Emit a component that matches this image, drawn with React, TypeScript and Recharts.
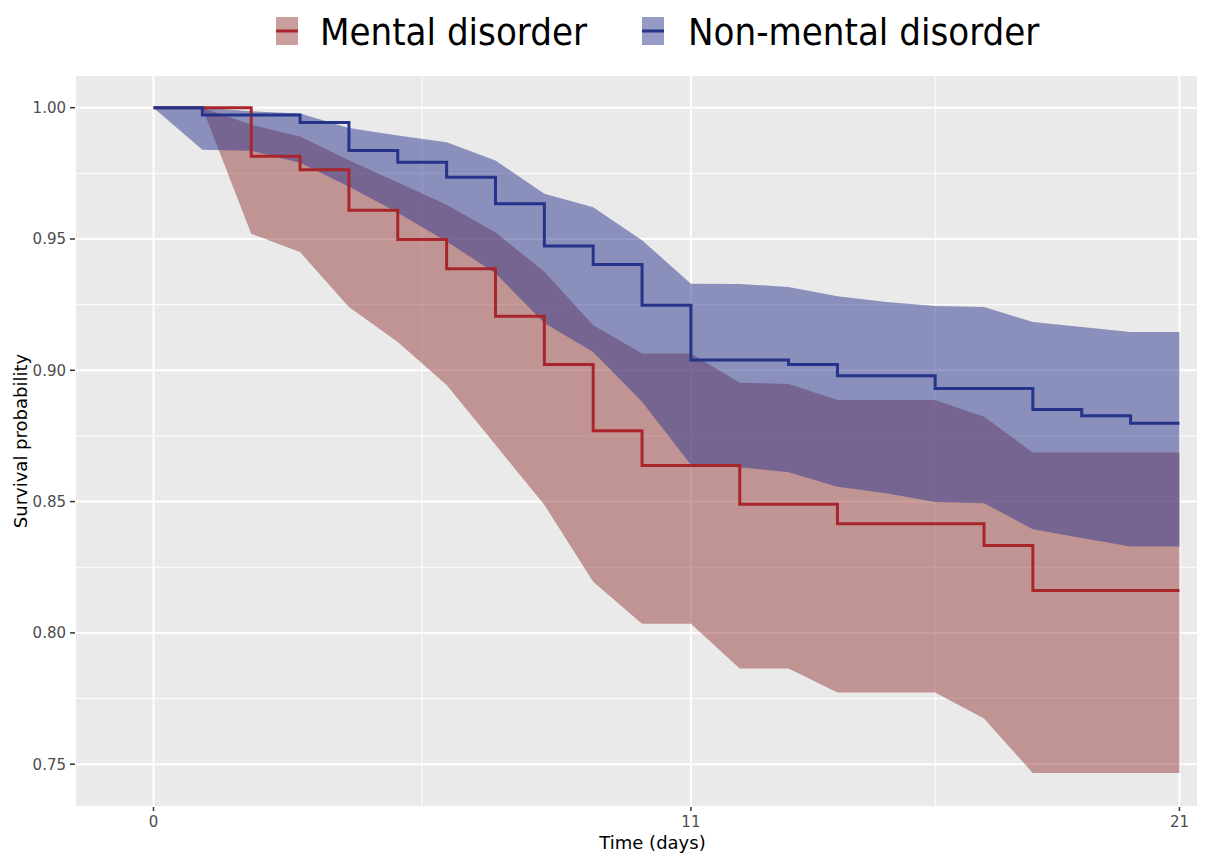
import React from 'react';
import { ComposedChart, Area, Line, XAxis, YAxis, CartesianGrid, Legend } from 'recharts';

const days = [0, 1, 2, 3, 4, 5, 6, 7, 8, 9, 10, 11, 12, 13, 14, 15, 16, 17, 18, 19, 20, 21];

const mentalSurv = [1, 1, 0.9815, 0.9764, 0.9609, 0.9498, 0.9387, 0.9206, 0.9022, 0.877, 0.8637, 0.8637, 0.849, 0.849, 0.8416, 0.8416, 0.8416, 0.8333, 0.8161, 0.8161, 0.8161, 0.8161];
const mentalLower = [null, 1, 0.952, 0.945, 0.9241, 0.9108, 0.8944, 0.8716, 0.8488, 0.8195, 0.8035, 0.8035, 0.7864, 0.7864, 0.7773, 0.7773, 0.7773, 0.7674, 0.7466, 0.7466, 0.7466, 0.7466];
const mentalUpper = [null, 1, 0.9935, 0.989, 0.98, 0.9715, 0.963, 0.9525, 0.9375, 0.9172, 0.9064, 0.9064, 0.8953, 0.8948, 0.8887, 0.8887, 0.8887, 0.8823, 0.8687, 0.8687, 0.8687, 0.8687];

const nonMentalSurv = [1, 0.9972, 0.9972, 0.9944, 0.9837, 0.9792, 0.9735, 0.9634, 0.9473, 0.9403, 0.9248, 0.9039, 0.9039, 0.9022, 0.8979, 0.8979, 0.8931, 0.8931, 0.8851, 0.8827, 0.8798, 0.8798];
const nonMentalLower = [1, 0.984, 0.9836, 0.979, 0.97, 0.96, 0.949, 0.937, 0.918, 0.907, 0.888, 0.864, 0.8631, 0.8612, 0.8557, 0.8532, 0.8498, 0.8494, 0.8395, 0.8361, 0.8329, 0.8329];
const nonMentalUpper = [1, 1, 0.9986, 0.9978, 0.9923, 0.9894, 0.9868, 0.9799, 0.9672, 0.9621, 0.9495, 0.933, 0.9329, 0.9317, 0.9282, 0.926, 0.9245, 0.9241, 0.9184, 0.9165, 0.9146, 0.9146];

const xTicks = [0, 11, 21];
const xMinorTicks = [5.5, 16];
const yTicks = [0.75, 0.8, 0.85, 0.9, 0.95, 1.0];
const yMinorTicks = [0.775, 0.825, 0.875, 0.925, 0.975];

const seriesNames = ['Mental disorder', 'Non-mental disorder'];

const RED_LINE = '#a8262b';
const RED_FILL = '#983d3e';
const BLUE_LINE = '#25338a';
const BLUE_FILL = '#2c358e';
const BAND_OPACITY = 0.5;

const X_DOMAIN: [number, number] = [-1.607, 21.38];
const Y_DOMAIN: [number, number] = [0.7337, 1.01245];

const data = days.map((d, i) => ({
  day: d,
  mental: mentalSurv[i],
  nonMental: nonMentalSurv[i],
  mentalBand: mentalLower[i] == null ? null : [mentalLower[i], mentalUpper[i]],
  nonMentalBand: [nonMentalLower[i], nonMentalUpper[i]],
}));

const AXIS_FONT = "'DejaVu Sans', Verdana, sans-serif";
const LEGEND_FONT = "'DejaVu Sans Condensed', 'Liberation Sans', Arial, sans-serif";

const renderLegend = () => (
  <svg width={1218} height={60} style={{ display: 'block' }}>
    <g>
      <rect x={276} y={17} width={22} height={28} fill={RED_FILL} fillOpacity={BAND_OPACITY} />
      <line x1={276} x2={298} y1={31} y2={31} stroke={RED_LINE} strokeWidth={3} />
      <text x={320} y={45} fontSize={38} fontFamily={LEGEND_FONT} fill="#000">{seriesNames[0]}</text>
    </g>
    <g>
      <rect x={642} y={17} width={22} height={28} fill={BLUE_FILL} fillOpacity={BAND_OPACITY} />
      <line x1={642} x2={664} y1={31} y2={31} stroke={BLUE_LINE} strokeWidth={3} />
      <text x={688} y={45} fontSize={38} fontFamily={LEGEND_FONT} fill="#000">{seriesNames[1]}</text>
    </g>
  </svg>
);

const XTitle = (props: any) => {
  const vb = props.viewBox || {};
  return (
    <text x={vb.x + vb.width / 2 + 16} y={849} textAnchor="middle" fontSize={18} fontFamily={AXIS_FONT} fill="#000">
      Time (days)
    </text>
  );
};

const YTitle = (props: any) => {
  const vb = props.viewBox || {};
  const cy = vb.y + vb.height / 2;
  return (
    <text x={27} y={cy} transform={`rotate(-90 27 ${cy})`} textAnchor="middle" fontSize={18} fontFamily={AXIS_FONT} fill="#000">
      Survival probability
    </text>
  );
};

export default function App() {
  return (
    <div style={{ position: 'absolute', left: 0, top: 0, width: 1218, height: 853, background: '#fff' }}>
      <ComposedChart width={1218} height={853} data={data} margin={{ top: 15, right: 20, bottom: 0, left: 0 }}>
        <Legend
          verticalAlign="top"
          content={renderLegend}
          wrapperStyle={{ position: 'absolute', top: 0, left: 0, width: 1218, height: 60, margin: 0, padding: 0 }}
        />
        <CartesianGrid fill="#e9eae9" stroke="#ffffff" strokeWidth={2} />
        <CartesianGrid xAxisId="minor" yAxisId="minor" stroke="#ffffff" strokeWidth={1} />
        <XAxis
          dataKey="day"
          type="number"
          domain={X_DOMAIN}
          allowDataOverflow
          ticks={xTicks}
          axisLine={false}
          tickLine={{ stroke: '#333', strokeWidth: 1.5 }}
          tickSize={4}
          tickMargin={5}
          height={46}
          tick={{ fontSize: 15, fill: '#4d4d4d', fontFamily: AXIS_FONT }}
          label={<XTitle />}
        />
        <XAxis xAxisId="minor" dataKey="day" type="number" domain={X_DOMAIN} allowDataOverflow ticks={xMinorTicks} hide />
        <YAxis
          type="number"
          domain={Y_DOMAIN}
          allowDataOverflow
          ticks={yTicks}
          tickFormatter={(v: number) => v.toFixed(2)}
          axisLine={false}
          tickLine={{ stroke: '#333', strokeWidth: 1.5 }}
          tickSize={5}
          tickMargin={4}
          width={75}
          tick={{ fontSize: 15, fill: '#4d4d4d', fontFamily: AXIS_FONT }}
          label={<YTitle />}
        />
        <YAxis yAxisId="minor" type="number" domain={Y_DOMAIN} allowDataOverflow ticks={yMinorTicks} hide />
        <Area
          dataKey="mentalBand"
          type="linear"
          stroke="none"
          fill={RED_FILL}
          fillOpacity={BAND_OPACITY}
          isAnimationActive={false}
          dot={false}
          activeDot={false}
          legendType="none"
        />
        <Area
          dataKey="nonMentalBand"
          type="linear"
          stroke="none"
          fill={BLUE_FILL}
          fillOpacity={BAND_OPACITY}
          isAnimationActive={false}
          dot={false}
          activeDot={false}
          legendType="none"
        />
        <Line dataKey="mental" name={seriesNames[0]} type="stepAfter" stroke={RED_LINE} strokeWidth={3} dot={false} activeDot={false} isAnimationActive={false} />
        <Line dataKey="nonMental" name={seriesNames[1]} type="stepAfter" stroke={BLUE_LINE} strokeWidth={3} dot={false} activeDot={false} isAnimationActive={false} />
      </ComposedChart>
    </div>
  );
}
